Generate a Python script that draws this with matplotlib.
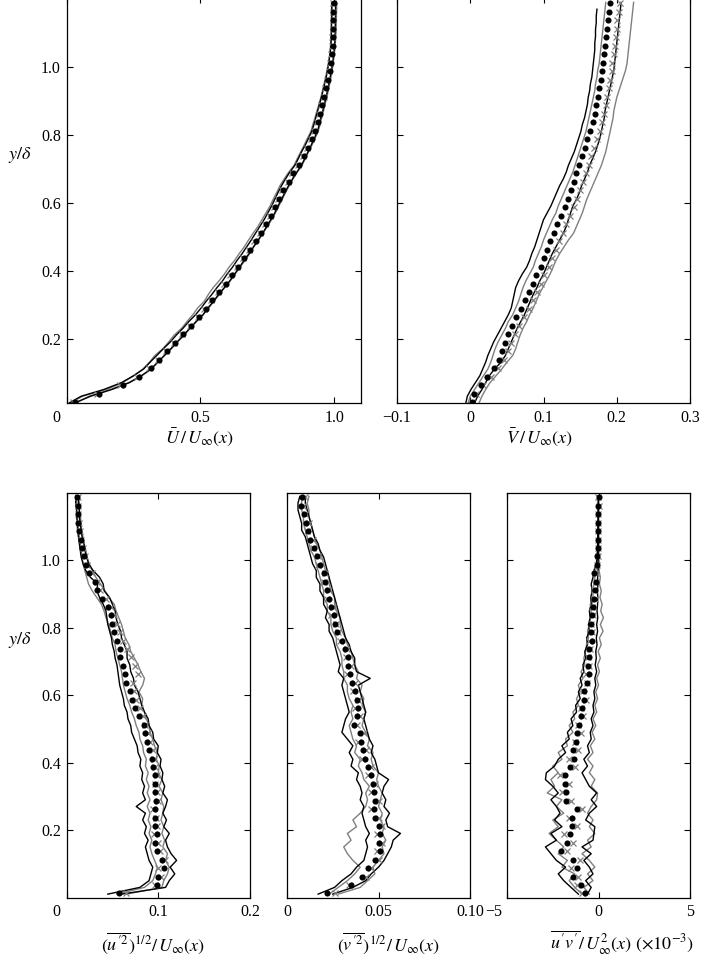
import numpy as np
import matplotlib
matplotlib.use("Agg")
import matplotlib.pyplot as plt
from matplotlib.transforms import ScaledTranslation

plt.rcParams['font.family'] = ['Liberation Serif', 'DejaVu Serif']
plt.rcParams['mathtext.fontset'] = 'stix'

# wall-normal positions: fine grid for the lines, coarser one for the symbols
y_line = np.array([0.01, 0.03, 0.05, 0.07, 0.09, 0.11, 0.13, 0.15, 0.17, 0.19,
                   0.21, 0.23, 0.25, 0.27, 0.29, 0.31, 0.33, 0.35, 0.37, 0.39,
                   0.41, 0.43, 0.45, 0.47, 0.49, 0.51, 0.53, 0.55, 0.57, 0.59,
                   0.61, 0.63, 0.65, 0.67, 0.69, 0.71, 0.73, 0.75, 0.77, 0.79,
                   0.81, 0.83, 0.85, 0.87, 0.89, 0.91, 0.93, 0.95, 0.97, 0.99,
                   1.01, 1.03, 1.05, 1.07, 1.09, 1.11, 1.13, 1.15, 1.17, 1.19])
y_mark = np.array([0.012, 0.037, 0.062, 0.087, 0.112, 0.137, 0.162, 0.187, 0.212, 0.237,
                   0.262, 0.287, 0.312, 0.337, 0.362, 0.387, 0.412, 0.437, 0.462, 0.487,
                   0.512, 0.537, 0.562, 0.587, 0.612, 0.637, 0.662, 0.687, 0.712, 0.737,
                   0.762, 0.787, 0.812, 0.837, 0.862, 0.887, 0.912, 0.937, 0.962, 0.987,
                   1.012, 1.037, 1.062, 1.087, 1.112, 1.137, 1.162, 1.187])

# ---- mean streamwise velocity U/Uinf
U_blk1 = [0.03, 0.09, 0.17, 0.235, 0.28, 0.315, 0.34, 0.366, 0.39, 0.413, 0.438, 0.46, 0.484, 0.51, 0.528,
          0.55, 0.568, 0.59, 0.61, 0.628, 0.646, 0.663, 0.682, 0.698, 0.716, 0.732, 0.748, 0.763, 0.778, 0.79,
          0.803, 0.816, 0.829, 0.844, 0.86, 0.877, 0.89, 0.902, 0.914, 0.926, 0.937, 0.944, 0.95, 0.957, 0.963,
          0.969, 0.975, 0.98, 0.985, 0.99, 0.994, 0.997, 1.0, 1.002, 1.003, 1.004, 1.004, 1.005, 1.005, 1.005]
U_blk2 = [0.01, 0.055, 0.14, 0.205, 0.25, 0.288, 0.312, 0.337, 0.362, 0.388, 0.41, 0.435, 0.457, 0.482, 0.503,
          0.522, 0.543, 0.562, 0.583, 0.6, 0.62, 0.637, 0.656, 0.673, 0.69, 0.706, 0.722, 0.738, 0.752, 0.766,
          0.778, 0.79, 0.803, 0.818, 0.834, 0.853, 0.866, 0.878, 0.892, 0.904, 0.916, 0.924, 0.931, 0.938, 0.945,
          0.952, 0.958, 0.964, 0.97, 0.975, 0.979, 0.983, 0.986, 0.988, 0.989, 0.99, 0.99, 0.991, 0.991, 0.991]
U_gry1 = [0.015, 0.06, 0.15, 0.21, 0.25, 0.285, 0.31, 0.33, 0.36, 0.382, 0.402, 0.43, 0.45, 0.472, 0.49,
          0.515, 0.53, 0.548, 0.57, 0.59, 0.607, 0.628, 0.645, 0.664, 0.68, 0.697, 0.715, 0.73, 0.745, 0.76,
          0.772, 0.785, 0.797, 0.813, 0.83, 0.85, 0.862, 0.875, 0.888, 0.9, 0.913, 0.92, 0.928, 0.935, 0.943,
          0.95, 0.956, 0.962, 0.968, 0.973, 0.978, 0.982, 0.985, 0.987, 0.988, 0.989, 0.989, 0.99, 0.99, 0.99]
U_gry2 = [0.035, 0.085, 0.165, 0.232, 0.278, 0.318, 0.342, 0.365, 0.392, 0.415, 0.44, 0.462, 0.486, 0.51, 0.532,
          0.55, 0.572, 0.59, 0.612, 0.63, 0.648, 0.667, 0.684, 0.7, 0.718, 0.734, 0.75, 0.766, 0.78, 0.793,
          0.806, 0.818, 0.832, 0.846, 0.862, 0.88, 0.892, 0.904, 0.917, 0.928, 0.94, 0.947, 0.953, 0.96, 0.966,
          0.972, 0.978, 0.983, 0.988, 0.992, 0.996, 0.999, 1.002, 1.004, 1.006, 1.007, 1.008, 1.008, 1.009, 1.009]
U_dot = [0.03, 0.12, 0.21, 0.27, 0.315, 0.345, 0.375, 0.405, 0.435, 0.465, 0.495, 0.52, 0.545, 0.57, 0.595,
         0.617, 0.64, 0.663, 0.685, 0.707, 0.727, 0.747, 0.764, 0.78, 0.795, 0.81, 0.83, 0.847, 0.87, 0.886,
         0.902, 0.918, 0.93, 0.938, 0.947, 0.955, 0.963, 0.97, 0.977, 0.983, 0.988, 0.992, 0.994, 0.996, 0.997,
         0.997, 0.997, 0.998]
U_crs = [0.025, 0.115, 0.2, 0.262, 0.31, 0.34, 0.37, 0.4, 0.43, 0.46, 0.49, 0.515, 0.54, 0.565, 0.59,
         0.612, 0.635, 0.658, 0.68, 0.702, 0.722, 0.742, 0.76, 0.776, 0.791, 0.806, 0.826, 0.843, 0.866, 0.882,
         0.898, 0.914, 0.926, 0.935, 0.944, 0.952, 0.96, 0.967, 0.974, 0.98, 0.985, 0.989, 0.991, 0.993, 0.994,
         0.994, 0.995, 0.995]

# ---- mean wall-normal velocity V/Uinf
V_blk1 = [-0.006, -0.004, 0.001, 0.007, 0.013, 0.017, 0.021, 0.024, 0.028, 0.032, 0.037, 0.042, 0.047, 0.052, 0.056,
          0.058, 0.06, 0.062, 0.066, 0.071, 0.077, 0.081, 0.084, 0.088, 0.091, 0.094, 0.097, 0.1, 0.105, 0.11,
          0.114, 0.118, 0.122, 0.127, 0.131, 0.134, 0.138, 0.142, 0.145, 0.148, 0.151, 0.153, 0.156, 0.158, 0.16,
          0.161, 0.163, 0.164, 0.166, 0.167, 0.168, 0.169, 0.17, 0.17, 0.171, 0.171, 0.172, 0.172, 0.173, np.nan]
V_blk2 = [0.006, 0.01, 0.016, 0.021, 0.026, 0.033, 0.042, 0.048, 0.052, 0.056, 0.06, 0.064, 0.069, 0.074, 0.078,
          0.082, 0.086, 0.091, 0.095, 0.1, 0.104, 0.108, 0.112, 0.117, 0.122, 0.127, 0.131, 0.134, 0.137, 0.14,
          0.145, 0.149, 0.152, 0.156, 0.16, 0.163, 0.167, 0.171, 0.174, 0.177, 0.179, 0.181, 0.183, 0.184, 0.186,
          0.188, 0.19, 0.192, 0.194, 0.196, 0.197, 0.198, 0.199, 0.2, 0.201, 0.202, 0.203, 0.204, 0.205, 0.206]
V_gry1 = [-0.003, 0.0, 0.006, 0.012, 0.018, 0.024, 0.028, 0.031, 0.034, 0.038, 0.043, 0.048, 0.052, 0.058, 0.062,
          0.066, 0.069, 0.072, 0.076, 0.081, 0.086, 0.089, 0.093, 0.097, 0.1, 0.104, 0.108, 0.112, 0.117, 0.12,
          0.124, 0.128, 0.132, 0.136, 0.14, 0.143, 0.146, 0.149, 0.152, 0.155, 0.158, 0.16, 0.162, 0.164, 0.166,
          0.168, 0.17, 0.171, 0.173, 0.174, 0.176, 0.177, 0.178, 0.179, 0.18, 0.181, 0.182, 0.183, 0.184, 0.185]
V_gry2 = [0.012, 0.016, 0.021, 0.027, 0.035, 0.043, 0.05, 0.058, 0.062, 0.065, 0.068, 0.072, 0.077, 0.081, 0.086,
          0.09, 0.094, 0.099, 0.104, 0.109, 0.113, 0.117, 0.122, 0.128, 0.134, 0.141, 0.145, 0.149, 0.153, 0.156,
          0.159, 0.163, 0.167, 0.171, 0.175, 0.179, 0.182, 0.185, 0.187, 0.189, 0.191, 0.193, 0.195, 0.196, 0.198,
          0.2, 0.203, 0.206, 0.209, 0.212, 0.214, 0.215, 0.216, 0.217, 0.218, 0.219, 0.22, 0.221, 0.222, 0.223]
V_dot = [0.002, 0.005, 0.014, 0.023, 0.032, 0.039, 0.043, 0.047, 0.052, 0.057, 0.063, 0.069, 0.075, 0.08, 0.085,
         0.09, 0.096, 0.101, 0.105, 0.109, 0.114, 0.119, 0.124, 0.129, 0.134, 0.138, 0.142, 0.145, 0.149, 0.152,
         0.156, 0.16, 0.164, 0.167, 0.17, 0.172, 0.174, 0.176, 0.178, 0.18, 0.181, 0.183, 0.184, 0.186, 0.187,
         0.188, 0.19, 0.191]
V_crs = [0.003, 0.008, 0.018, 0.028, 0.038, 0.046, 0.051, 0.056, 0.061, 0.067, 0.073, 0.08, 0.086, 0.091, 0.096,
         0.101, 0.107, 0.112, 0.117, 0.121, 0.126, 0.131, 0.136, 0.141, 0.146, 0.15, 0.154, 0.158, 0.162, 0.165,
         0.169, 0.173, 0.177, 0.18, 0.183, 0.185, 0.187, 0.189, 0.191, 0.193, 0.194, 0.196, 0.197, 0.199, 0.2,
         0.201, 0.203, 0.204]

# ---- rms streamwise fluctuation
Urms_blk1 = [0.045, 0.08, 0.09, 0.092, 0.094, 0.09, 0.088, 0.086, 0.089, 0.085, 0.087, 0.083, 0.086, 0.076, 0.086,
             0.083, 0.085, 0.082, 0.083, 0.08, 0.081, 0.078, 0.077, 0.074, 0.071, 0.07, 0.067, 0.066, 0.063, 0.062,
             0.06, 0.058, 0.057, 0.056, 0.055, 0.053, 0.052, 0.05, 0.049, 0.047, 0.045, 0.044, 0.043, 0.04, 0.036,
             0.033, 0.034, 0.026, 0.021, 0.018, 0.016, 0.015, 0.014, 0.013, 0.012, 0.012, 0.011, 0.011, 0.01, 0.01]
Urms_blk2 = [0.06, 0.108, 0.112, 0.118, 0.113, 0.12, 0.114, 0.11, 0.108, 0.112, 0.106, 0.109, 0.105, 0.108, 0.11,
             0.105, 0.107, 0.104, 0.105, 0.102, 0.103, 0.099, 0.1, 0.095, 0.094, 0.09, 0.089, 0.085, 0.082, 0.08,
             0.078, 0.074, 0.073, 0.07, 0.069, 0.066, 0.066, 0.063, 0.06, 0.059, 0.056, 0.054, 0.053, 0.05, 0.047,
             0.041, 0.04, 0.036, 0.029, 0.024, 0.022, 0.02, 0.019, 0.017, 0.016, 0.015, 0.014, 0.014, 0.013, 0.013]
Urms_gry1 = [0.055, 0.085, 0.094, 0.097, 0.099, 0.096, 0.093, 0.091, 0.093, 0.09, 0.092, 0.089, 0.091, 0.088, 0.091,
             0.088, 0.09, 0.087, 0.089, 0.086, 0.087, 0.084, 0.083, 0.08, 0.079, 0.076, 0.074, 0.071, 0.069, 0.066,
             0.064, 0.062, 0.061, 0.06, 0.058, 0.056, 0.054, 0.053, 0.05, 0.048, 0.046, 0.043, 0.041, 0.038, 0.033,
             0.028, 0.024, 0.022, 0.02, 0.018, 0.017, 0.016, 0.015, 0.014, 0.013, 0.012, 0.012, 0.011, 0.011, 0.01]
Urms_gry2 = [0.065, 0.104, 0.106, 0.11, 0.112, 0.108, 0.11, 0.105, 0.107, 0.104, 0.106, 0.103, 0.105, 0.106, 0.103,
             0.105, 0.101, 0.104, 0.1, 0.101, 0.098, 0.099, 0.096, 0.094, 0.091, 0.09, 0.087, 0.085, 0.082, 0.083,
             0.079, 0.083, 0.085, 0.081, 0.078, 0.074, 0.07, 0.068, 0.064, 0.062, 0.06, 0.057, 0.054, 0.052, 0.046,
             0.042, 0.037, 0.032, 0.028, 0.025, 0.022, 0.021, 0.019, 0.018, 0.016, 0.016, 0.015, 0.014, 0.014, 0.013]
Urms_dot = [0.057, 0.099, 0.1, 0.106, 0.104, 0.099, 0.097, 0.099, 0.097, 0.096, 0.097, 0.098, 0.096, 0.096, 0.096,
            0.094, 0.093, 0.09, 0.088, 0.086, 0.084, 0.079, 0.075, 0.071, 0.069, 0.065, 0.064, 0.062, 0.058, 0.058,
            0.055, 0.052, 0.05, 0.048, 0.045, 0.039, 0.033, 0.031, 0.025, 0.021, 0.019, 0.017, 0.016, 0.014, 0.013,
            0.012, 0.012, 0.011]
Urms_crs = [0.065, 0.096, 0.103, 0.1, 0.107, 0.102, 0.1, 0.095, 0.099, 0.098, 0.094, 0.1, 0.099, 0.097, 0.099,
            0.097, 0.095, 0.094, 0.091, 0.089, 0.086, 0.083, 0.08, 0.076, 0.074, 0.073, 0.078, 0.075, 0.07, 0.066,
            0.062, 0.058, 0.055, 0.052, 0.048, 0.043, 0.037, 0.033, 0.028, 0.022, 0.02, 0.018, 0.016, 0.015, 0.014,
            0.013, 0.012, 0.012]

# ---- rms wall-normal fluctuation
Vrms_blk1 = [0.017, 0.026, 0.03, 0.035, 0.038, 0.042, 0.043, 0.044, 0.043, 0.045, 0.043, 0.042, 0.041, 0.042, 0.04,
             0.041, 0.04, 0.038, 0.039, 0.035, 0.036, 0.034, 0.036, 0.033, 0.03, 0.031, 0.032, 0.034, 0.033, 0.032,
             0.031, 0.03, 0.031, 0.028, 0.029, 0.028, 0.027, 0.026, 0.025, 0.023, 0.023, 0.021, 0.022, 0.02, 0.02,
             0.018, 0.018, 0.016, 0.016, 0.014, 0.013, 0.012, 0.011, 0.01, 0.008, 0.008, 0.007, 0.006, 0.006, 0.007]
Vrms_blk2 = [0.025, 0.036, 0.043, 0.046, 0.05, 0.053, 0.055, 0.057, 0.058, 0.062, 0.055, 0.054, 0.056, 0.053, 0.054,
             0.052, 0.053, 0.0555, 0.05, 0.049, 0.048, 0.046, 0.047, 0.045, 0.044, 0.043, 0.042, 0.043, 0.042, 0.041,
             0.04, 0.039, 0.0455, 0.038, 0.037, 0.037, 0.035, 0.034, 0.032, 0.031, 0.03, 0.029, 0.028, 0.027, 0.026,
             0.025, 0.024, 0.023, 0.022, 0.021, 0.02, 0.018, 0.017, 0.015, 0.014, 0.013, 0.012, 0.011, 0.01, 0.01]
Vrms_gry1 = [0.023, 0.028, 0.033, 0.037, 0.04, 0.036, 0.033, 0.031, 0.035, 0.033, 0.038, 0.036, 0.04, 0.043, 0.044,
             0.043, 0.045, 0.042, 0.041, 0.039, 0.04, 0.037, 0.038, 0.036, 0.035, 0.034, 0.036, 0.035, 0.036, 0.034,
             0.033, 0.033, 0.031, 0.031, 0.03, 0.03, 0.029, 0.027, 0.027, 0.025, 0.024, 0.024, 0.022, 0.022, 0.02,
             0.02, 0.019, 0.018, 0.017, 0.016, 0.015, 0.013, 0.012, 0.011, 0.01, 0.009, 0.009, 0.008, 0.008, 0.008]
Vrms_gry2 = [0.028, 0.04, 0.044, 0.048, 0.047, 0.05, 0.053, 0.052, 0.054, 0.052, 0.053, 0.051, 0.052, 0.05, 0.051,
             0.052, 0.05, 0.049, 0.05, 0.047, 0.046, 0.047, 0.044, 0.045, 0.043, 0.041, 0.042, 0.043, 0.041, 0.042,
             0.04, 0.041, 0.038, 0.039, 0.037, 0.036, 0.035, 0.033, 0.032, 0.03, 0.029, 0.029, 0.027, 0.026, 0.026,
             0.024, 0.023, 0.023, 0.021, 0.02, 0.019, 0.018, 0.016, 0.015, 0.014, 0.013, 0.012, 0.012, 0.011, 0.012]
Vrms_dot = [0.0217, 0.035, 0.041, 0.0445, 0.048, 0.051, 0.05, 0.051, 0.05, 0.048, 0.0475, 0.048, 0.0478, 0.047, 0.046,
            0.0445, 0.0425, 0.0415, 0.0405, 0.04, 0.0365, 0.038, 0.039, 0.038, 0.0373, 0.0354, 0.0345, 0.0336,
            0.0336, 0.0315, 0.03, 0.0272, 0.0263, 0.0255, 0.024, 0.0228, 0.0218, 0.021, 0.0202, 0.018, 0.0162,
            0.0145, 0.0125, 0.0115, 0.0105, 0.0095, 0.0075, 0.008]
Vrms_crs = [0.026, 0.034, 0.043, 0.046, 0.05, 0.049, 0.052, 0.049, 0.052, 0.05, 0.046, 0.05, 0.046, 0.048, 0.044,
            0.046, 0.041, 0.043, 0.039, 0.042, 0.038, 0.04, 0.037, 0.039, 0.036, 0.037, 0.033, 0.035, 0.032, 0.033,
            0.029, 0.028, 0.027, 0.024, 0.025, 0.022, 0.023, 0.02, 0.021, 0.017, 0.017, 0.014, 0.014, 0.011, 0.012,
            0.01, 0.009, 0.01]

# ---- Reynolds shear stress (x 1e-3)
UV_blk1 = [-1.1, -1.5, -1.9, -2.2, -1.8, -2.3, -2.6, -2.9, -2.3, -2.6, -2.0, -2.4, -2.1, -2.3, -2.6,
           -2.2, -2.5, -2.9, -2.85, -2.4, -2.2, -1.8, -2.0, -1.6, -1.7, -1.4, -1.5, -1.2, -1.25, -1.0,
           -1.1, -0.9, -1.0, -0.8, -0.85, -0.7, -0.75, -0.6, -0.65, -0.5, -0.55, -0.45, -0.5, -0.4, -0.42,
           -0.35, -0.4, -0.3, -0.25, -0.12, -0.08, -0.06, -0.05, -0.04, -0.03, -0.03, -0.02, -0.02, -0.01, -0.01]
UV_blk2 = [-0.6, -0.4, -0.7, -0.3, -0.5, -0.8, -0.4, -0.9, -0.3, -0.25, -0.2, -0.7, -0.5, -0.1, -0.4,
           -0.1, -0.5, -0.7, -0.9, -0.6, -0.8, -0.5, -0.6, -0.4, -0.45, -0.3, -0.4, -0.25, -0.3, -0.2,
           -0.25, -0.15, -0.2, -0.1, -0.18, -0.12, -0.15, -0.08, -0.12, -0.05, -0.1, -0.04, -0.08, -0.05, -0.04,
           -0.06, -0.03, -0.05, -0.02, -0.03, -0.01, -0.02, 0.0, -0.01, 0.0, -0.01, 0.0, 0.0, 0.0, 0.0]
UV_gry1 = [-0.9, -1.3, -1.6, -1.3, -2.0, -1.7, -2.2, -1.9, -2.3, -2.7, -2.2, -2.5, -1.9, -2.3, -2.0,
           -2.8, -2.4, -2.6, -2.2, -2.5, -2.0, -2.2, -1.7, -1.8, -1.4, -1.6, -1.3, -1.4, -1.1, -1.2,
           -1.0, -1.1, -0.85, -0.95, -0.75, -0.8, -0.7, -0.65, -0.55, -0.6, -0.5, -0.45, -0.4, -0.35, -0.3,
           -0.3, -0.25, -0.2, -0.15, -0.08, -0.06, -0.04, -0.03, -0.03, -0.02, -0.02, -0.01, -0.01, -0.01, 0.0]
UV_gry2 = [-0.5, -0.8, -0.3, -0.6, -0.2, -0.5, -0.9, -0.4, -0.6, -0.2, -0.5, -0.3, -0.6, -0.4, -0.1,
           -0.05, -0.4, -0.2, -0.5, -0.3, -0.6, -0.3, -0.45, -0.2, -0.35, -0.15, -0.3, -0.1, -0.2, -0.05,
           -0.15, 0.0, -0.1, 0.05, -0.05, 0.1, -0.02, 0.15, 0.05, 0.25, 0.1, 0.27, 0.12, 0.2, 0.08,
           0.15, 0.05, 0.1, 0.03, 0.05, 0.02, 0.03, 0.01, 0.02, 0.01, 0.01, 0.0, 0.01, 0.0, 0.0]
UV_dot = [-0.75, -0.95, -1.4, -1.2, -1.4, -2.05, -1.72, -1.55, -1.45, -1.43, -1.2, -1.75, -1.78, -1.85, -1.82,
          -1.55, -1.35, -1.42, -1.25, -1.15, -1.06, -0.97, -0.88, -0.8, -0.78, -0.62, -0.54, -0.6, -0.53, -0.52,
          -0.36, -0.42, -0.43, -0.35, -0.3, -0.26, -0.17, -0.16, -0.24, -0.1, -0.06, -0.04, -0.03, -0.02, -0.02,
          -0.01, -0.01, 0.0]
UV_crs = [-0.9, -1.2, -1.1, -1.5, -1.0, -1.7, -1.4, -1.9, -1.2, -1.6, -0.9, -1.5, -2.0, -1.6, -2.1,
          -1.3, -1.6, -1.1, -1.3, -0.95, -1.1, -0.85, -0.95, -0.7, -0.85, -0.65, -0.7, -0.5, -0.6, -0.45,
          -0.5, -0.35, -0.4, -0.3, -0.35, -0.2, -0.25, -0.12, -0.15, -0.08, -0.05, -0.05, -0.03, -0.03, -0.01,
          -0.02, 0.0, -0.01]

y_ticks = [0.2, 0.4, 0.6, 0.8, 1.0]
y_tick_labels = ['0.2', '0.4', '0.6', '0.8', '1.0']

GRAY = '#7f7f7f'
W, H = 703, 957

fig = plt.figure(figsize=(W / 100, H / 100), dpi=100)


def px_axes(left, top, right, bottom):
    return fig.add_axes([left / W, 1 - bottom / H, (right - left) / W, (bottom - top) / H])


def draw(ax, blk1, blk2, gry1, gry2, dot, crs):
    ax.plot(gry1, y_line, color=GRAY, lw=1.0)
    ax.plot(gry2, y_line, color=GRAY, lw=1.0)
    ax.plot(blk1, y_line, color='black', lw=1.0)
    ax.plot(blk2, y_line, color='black', lw=1.0)
    ax.plot(crs, y_mark, ls='none', marker='x', ms=4.5, mew=0.9, color=GRAY)
    ax.plot(dot, y_mark, ls='none', marker='o', ms=4.4, mew=0, color='black')


def style(ax, xlim, ylim, xticks, xlabels, show_y, first_shift=0):
    ax.set_xlim(xlim)
    ax.set_ylim(ylim)
    ax.set_xticks(xticks)
    ax.set_xticklabels(xlabels)
    ax.set_yticks(y_ticks)
    ax.set_yticklabels(y_tick_labels if show_y else [])
    ax.tick_params(direction='in', top=True, right=True, length=4, width=0.8,
                   labelsize=11.5, pad=5)
    ax.tick_params(axis='y', pad=4)
    for s in ax.spines.values():
        s.set_linewidth(0.9)
    if first_shift:
        lab = ax.get_xticklabels()[0]
        lab.set_transform(lab.get_transform() +
                          ScaledTranslation(first_shift / 100, 0, fig.dpi_scale_trans))


# top panels run off the top edge of the picture, so their upper frame is not seen
ax1 = px_axes(66.5, -3, 361, 403)
draw(ax1, U_blk1, U_blk2, U_gry1, U_gry2, U_dot, U_crs)
style(ax1, (0, 1.1), (0.01, 1.206), [0, 0.5, 1.0], ['0', '0.5', '1.0'], True, -10)

ax2 = px_axes(397, -3, 690, 403)
draw(ax2, V_blk1, V_blk2, V_gry1, V_gry2, V_dot, V_crs)
style(ax2, (-0.1, 0.3), (0.01, 1.206), [-0.1, 0, 0.1, 0.2, 0.3],
      ['\u22120.1', '0', '0.1', '0.2', '0.3'], False)

ax3 = px_axes(66.5, 493, 250, 897.5)
draw(ax3, Urms_blk1, Urms_blk2, Urms_gry1, Urms_gry2, Urms_dot, Urms_crs)
style(ax3, (0, 0.2), (0, 1.2), [0, 0.1, 0.2], ['0', '0.1', '0.2'], True, -10)

ax4 = px_axes(287, 493, 470, 897.5)
draw(ax4, Vrms_blk1, Vrms_blk2, Vrms_gry1, Vrms_gry2, Vrms_dot, Vrms_crs)
style(ax4, (0, 0.1), (0, 1.2), [0, 0.05, 0.1], ['0', '0.05', '0.10'], False)

ax5 = px_axes(507, 493, 690, 897.5)
draw(ax5, UV_blk1, UV_blk2, UV_gry1, UV_gry2, UV_dot, UV_crs)
style(ax5, (-5, 5), (0, 1.2), [-5, 0, 5], ['\u22125', '0', '5'], False, -13)

lab_kw = dict(ha='center', va='center', fontsize=13)
fig.text(20 / W, 1 - 155 / H, r'$y/\delta$', **lab_kw)
fig.text(20 / W, 1 - 640 / H, r'$y/\delta$', **lab_kw)
fig.text(200 / W, 1 - 437 / H, r'$\bar{U}\,/\,U_\infty(x)$', **lab_kw)
fig.text(540 / W, 1 - 437 / H, r'$\bar{V}\,/\,U_\infty(x)$', **lab_kw)
fig.text(153 / W, 1 - 943 / H, r'$(\overline{u^{\prime 2}})^{1/2}/\,U_\infty(x)$', **lab_kw)
fig.text(388 / W, 1 - 943 / H, r'$(\overline{v^{\prime 2}})^{1/2}/\,U_\infty(x)$', **lab_kw)
fig.text(622 / W, 1 - 943 / H, r'$\overline{u^\prime v^\prime}/\,U_\infty^2(x)\ (\times 10^{-3})$', **lab_kw)

fig.savefig('out.png', dpi=100)
